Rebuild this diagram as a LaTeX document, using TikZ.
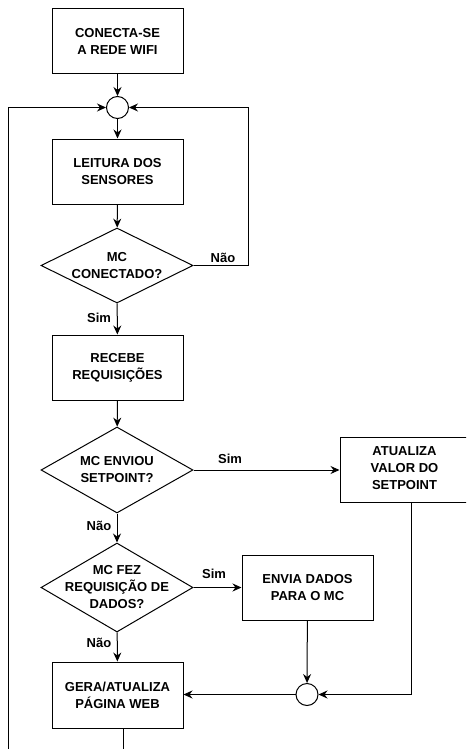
\documentclass[tikz,border=0pt]{standalone}
\usepackage{fontspec}
\setmainfont{Liberation Sans}
\usepackage{tikz}
\usetikzlibrary{positioning,shapes.geometric,arrows.meta}

\tikzset{
  txt/.style={font=\fontsize{13}{17}\selectfont\bfseries, align=center},
  stepbox/.style={txt, draw, line width=1pt, minimum width=131pt, minimum height=65pt, inner sep=0pt},
  decision/.style={txt, draw, shape=diamond, line width=1pt, aspect=2, inner sep=-16pt, minimum width=152pt},
  joint/.style={draw, circle, line width=1pt, minimum size=22pt, inner sep=0pt},
  lbl/.style={txt, inner sep=0pt},
  flow/.style={line width=1pt, -{Stealth[length=9pt,width=8pt,inset=3pt]}},
  wire/.style={line width=1pt},
}

\begin{document}
\begin{tikzpicture}[x=1pt, y=-1pt]
\clip (0,0) rectangle (466,749);
\useasboundingbox (0,0) rectangle (466,749);

% main column
\node[stepbox] (wifi) at (117.5,41) {CONECTA-SE\\A REDE WIFI};
\node[joint] (j1) at (117.5,107.5) {};
\node[stepbox] (leitura) at (117.5,171.5) {LEITURA DOS\\SENSORES};
\node[decision, minimum height=75pt] (conn) at (117,265.5) {MC\\CONECTADO?};
\node[stepbox] (recebe) at (117.5,367.5) {RECEBE\\REQUISIÇÕES};
\node[decision, minimum height=86pt] (setpt) at (117,470) {MC ENVIOU\\SETPOINT?};
\node[decision, minimum height=89pt] (mcreq) at (117,587.5) {MC FEZ\\REQUISIÇÃO DE\\DADOS?};
\node[stepbox, minimum height=66pt] (gera) at (117.5,695) {GERA/ATUALIZA\\PÁGINA WEB};

% right side
\node[stepbox, minimum width=140pt] (atualiza) at (410,469.5) {\hspace*{-11pt}\begin{tabular}{@{}c@{}}ATUALIZA\\VALOR DO\\SETPOINT\end{tabular}};
\node[stepbox] (envia) at (307.5,587.5) {ENVIA DADOS\\PARA O MC};
\node[joint] (j2) at (307,694.5) {};

\coordinate (rightloop) at (248,0);
\coordinate (rdrop) at (411,0);
\coordinate (loopbot) at (8.5,760);
\coordinate (genddown) at (123,760);

\draw[flow] (wifi) -- (j1);
\draw[flow] (j1) -- (leitura);
\draw[flow] (leitura) -- (conn);
\draw[flow] (conn) -- (recebe);
\draw[flow] (conn.east) -| (rightloop |- j1) -- (j1);
\draw[flow] (recebe) -- (setpt);
\draw[flow] (setpt.east) -- (setpt.east -| atualiza.west);
\draw[flow] (setpt) -- (mcreq);
\draw[flow] (mcreq.east) -- (mcreq.east -| envia.west);
\draw[flow] (mcreq) -- (gera);
\draw[flow] (envia) -- (j2);
\draw[flow] (atualiza.south -| rdrop) |- (j2);
\draw[flow] (j2.west) -- (j2.west -| gera.east);
\draw[wire] (gera.south -| genddown) -- (genddown);
\draw[flow] (loopbot) |- (j1);

% labels
\node[lbl] (nao1) at (223,258) {Não};
\node[lbl] (sim1) at (99,318) {Sim};
\node[lbl] (sim2) at (230,459) {Sim};
\node[lbl] (nao2) at (99,526) {Não};
\node[lbl] (sim3) at (214,574) {Sim};
\node[lbl] (nao3) at (99,643) {Não};
\end{tikzpicture}
\end{document}
